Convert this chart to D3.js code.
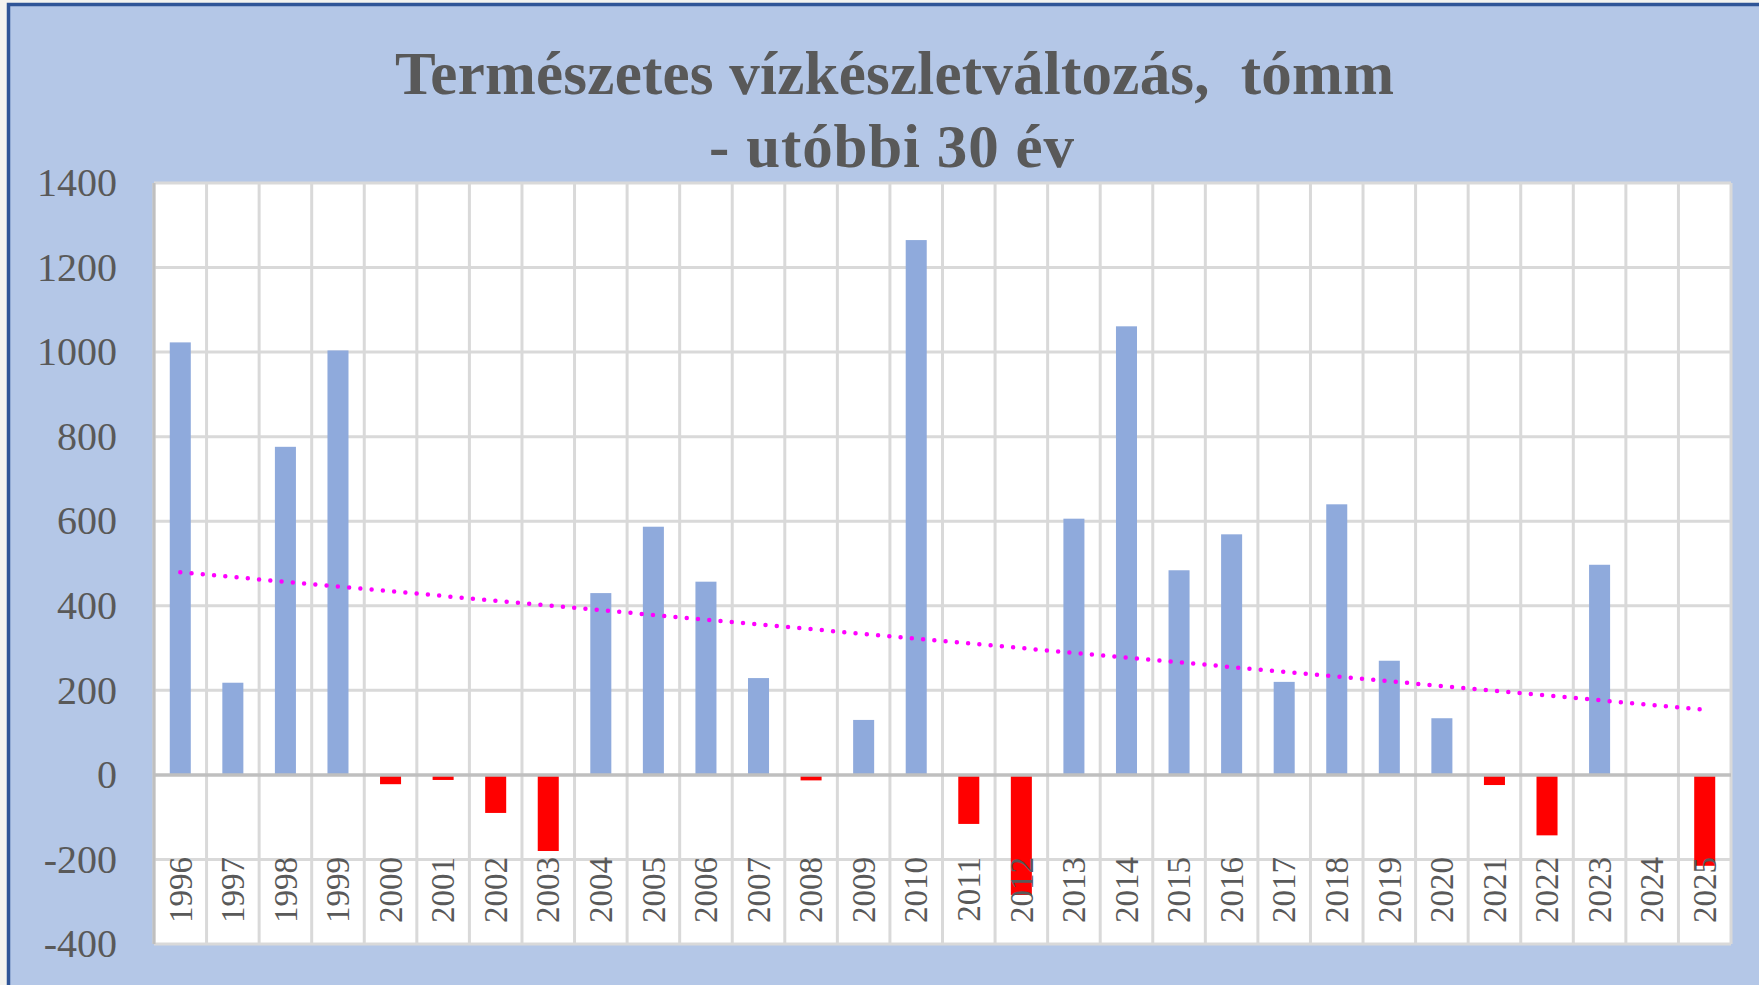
<!DOCTYPE html>
<html>
<head>
<meta charset="utf-8">
<script src="https://cdn.jsdelivr.net/npm/d3@7"></script>
<style>
  body { margin: 0; background: #f3f3ef; }
  svg { display: block; }
</style>
</head>
<body>
<div id="chart"></div>
<script>
// Chart data
var years = ['1996', '1997', '1998', '1999', '2000', '2001', '2002', '2003', '2004', '2005',
  '2006', '2007', '2008', '2009', '2010', '2011', '2012', '2013', '2014', '2015',
  '2016', '2017', '2018', '2019', '2020', '2021', '2022', '2023', '2024', '2025']
var values = [1023, 218, 776, 1004, -22, -12, -90, -180, 430, 587,
  457, 229, -13, 130, 1265, -116, -284, 606, 1061, 484,
  569, 220, 640, 270, 134, -24, -143, 497, 0, -215]
var yTicks = [-400, -200, 0, 200, 400, 600, 800, 1000, 1200, 1400]
var titleLines = ['Természetes vízkészletváltozás,  tómm', '- utóbbi 30 év']

var width = 1759
var height = 985
var plot = { left: 154, right: 1731, top: 183, bottom: 944 }
var textColor = '#595959'
var serif = '"Liberation Serif", "Times New Roman", serif'

var svg = d3.select('#chart')
  .append('svg')
  .attr('width', width)
  .attr('height', height)

// outer background + frame
svg.append('rect')
  .attr('x', 0).attr('y', 0)
  .attr('width', width).attr('height', height)
  .style('fill', '#f3f3ef')

svg.append('rect')
  .attr('x', 8.5).attr('y', 4.5)
  .attr('width', width + 20).attr('height', height + 20)
  .style('fill', '#b4c7e7')
  .style('stroke', '#2f5597')
  .style('stroke-width', 3.5)

// scales
var x = d3.scaleBand()
  .domain(years)
  .range([plot.left, plot.right])
  .paddingInner(0)
  .paddingOuter(0)

var y = d3.scaleLinear()
  .domain([-400, 1400])
  .range([plot.bottom, plot.top])

var barWidth = x.bandwidth() * 0.4

// plot area
svg.append('rect')
  .attr('x', plot.left).attr('y', plot.top)
  .attr('width', plot.right - plot.left)
  .attr('height', plot.bottom - plot.top)
  .style('fill', '#fff')

// horizontal gridlines
svg.selectAll('.hgrid')
  .data(yTicks.filter(function (d) { return d !== 0 }))
  .enter()
  .append('line')
  .attr('x1', plot.left).attr('x2', plot.right)
  .attr('y1', function (d) { return y(d) })
  .attr('y2', function (d) { return y(d) })
  .style('stroke', '#d9d9d9')
  .style('stroke-width', 3)

// vertical gridlines at category boundaries
var bounds = years.map(function (d) { return x(d) }).concat([plot.right])
svg.selectAll('.vgrid')
  .data(bounds)
  .enter()
  .append('line')
  .attr('x1', function (d) { return d }).attr('x2', function (d) { return d })
  .attr('y1', plot.top).attr('y2', plot.bottom)
  .style('stroke', '#d9d9d9')
  .style('stroke-width', 3)

// bars
svg.selectAll('.bar')
  .data(values)
  .enter()
  .append('rect')
  .attr('x', function (d, i) { return x(years[i]) + (x.bandwidth() - barWidth) / 2 })
  .attr('y', function (d) { return y(Math.max(0, d)) })
  .attr('width', barWidth)
  .attr('height', function (d) { return Math.abs(y(d) - y(0)) })
  .style('fill', function (d) { return d < 0 ? '#ff0000' : '#8faadc' })

// zero line + left axis line
svg.append('line')
  .attr('x1', plot.left).attr('x2', plot.right)
  .attr('y1', y(0)).attr('y2', y(0))
  .style('stroke', '#bfbfbf')
  .style('stroke-width', 3.5)

svg.append('line')
  .attr('x1', plot.left).attr('x2', plot.left)
  .attr('y1', plot.top).attr('y2', plot.bottom)
  .style('stroke', '#bfbfbf')
  .style('stroke-width', 3)

// linear trendline (least squares, like Excel)
var n = values.length
var meanX = d3.mean(values, function (d, i) { return i })
var meanY = d3.mean(values)
var sxy = d3.sum(values, function (d, i) { return (i - meanX) * (d - meanY) })
var sxx = d3.sum(values, function (d, i) { return (i - meanX) * (i - meanX) })
var slope = sxy / sxx
var intercept = meanY - slope * meanX
var trend = [0, n - 1].map(function (i) {
  return [x(years[i]) + x.bandwidth() / 2, y(intercept + slope * i)]
})

svg.append('path')
  .datum(trend)
  .attr('d', d3.line())
  .style('fill', 'none')
  .style('stroke', '#ff00ff')
  .style('stroke-width', 4.5)
  .style('stroke-linecap', 'round')
  .style('stroke-dasharray', '0 11.3')

// y tick labels
svg.selectAll('.ylabel')
  .data(yTicks)
  .enter()
  .append('text')
  .attr('x', 117)
  .attr('y', function (d) { return y(d) })
  .attr('dy', '0.33em')
  .attr('text-anchor', 'end')
  .style('font-family', serif)
  .style('font-size', '40px')
  .style('fill', textColor)
  .text(function (d) { return String(d) })

// x tick labels (rotated, drawn over the bars)
svg.selectAll('.xlabel')
  .data(years)
  .enter()
  .append('text')
  .attr('transform', function (d) {
    return 'translate(' + (x(d) + x.bandwidth() / 2) + ',857) rotate(-90)'
  })
  .attr('dy', '0.34em')
  .attr('text-anchor', 'end')
  .style('font-family', serif)
  .style('font-size', '33px')
  .style('fill', textColor)
  .text(function (d) { return d })

// title
var titleSpan = [[395, 1394, 94], [709, 1074, 167]]
titleLines.forEach(function (line, i) {
  svg.append('text')
    .attr('x', titleSpan[i][0])
    .attr('y', titleSpan[i][2])
    .attr('textLength', titleSpan[i][1] - titleSpan[i][0])
    .attr('lengthAdjust', 'spacing')
    .style('font-family', serif)
    .style('font-size', '61px')
    .style('font-weight', 'bold')
    .style('fill', textColor)
    .style('white-space', 'pre')
    .text(line)
})
</script>
</body>
</html>
